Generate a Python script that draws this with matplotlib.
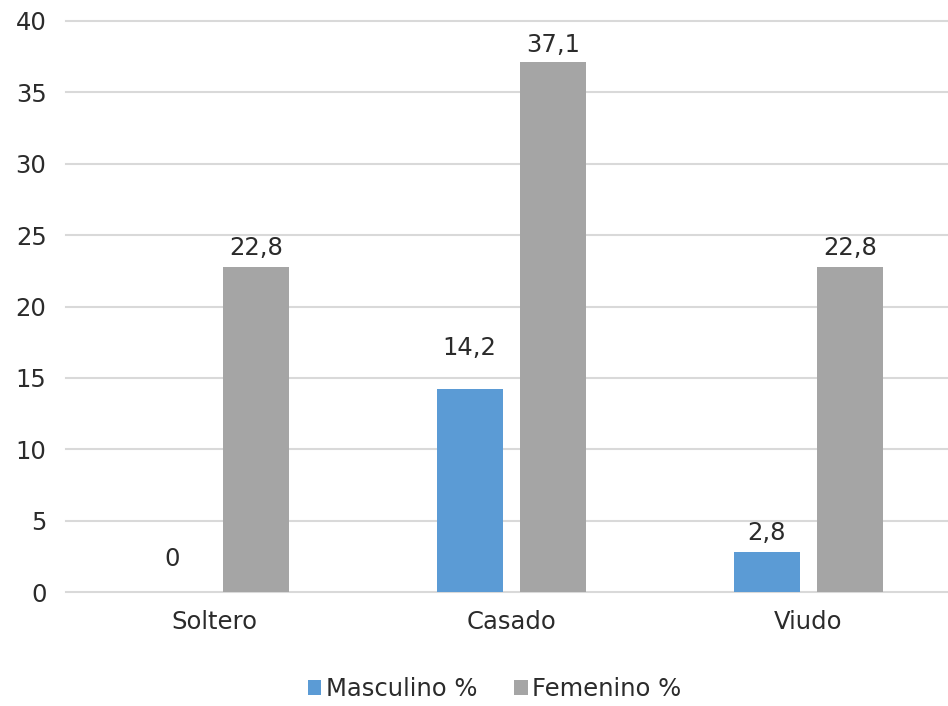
import numpy as np
import matplotlib.pyplot as plt
from matplotlib.ticker import MultipleLocator

categories = ['Soltero', 'Casado', 'Viudo']
masculino = [0, 14.2, 2.8]
femenino = [22.8, 37.1, 22.8]
series_names = ['Masculino %', 'Femenino %']

blue = '#5B9BD5'
grey = '#A5A5A5'
text_col = '#2B2B2B'
fs = 17.5

plt.rcParams['font.family'] = 'DejaVu Sans'

fig = plt.figure(figsize=(9.48, 7.06), dpi=100)
ax = fig.add_axes([66 / 948, 114 / 706, 1 - 66 / 948, 571 / 706])

x = np.arange(len(categories))
w = 0.222
off = 0.141
b1 = ax.bar(x - off, masculino, w, color=blue, label=series_names[0], zorder=3)
b2 = ax.bar(x + off, femenino, w, color=grey, label=series_names[1], zorder=3)

# value labels, with the small nudges the original layout had
pads = [[15, 21, 5], [5, 4, 5]]
for bars, vals, pp in ((b1, masculino, pads[0]), (b2, femenino, pads[1])):
    for rect, v, p in zip(bars, vals, pp):
        ax.annotate(f'{v:g}'.replace('.', ','),
                    (rect.get_x() + rect.get_width() / 2, v),
                    xytext=(0, p), textcoords='offset points',
                    ha='center', va='bottom', fontsize=fs, color=text_col)

ax.set_xlim(-0.5, 2.47)
ax.set_ylim(0, 40)
ax.yaxis.set_major_locator(MultipleLocator(5))
ax.set_xticks(x)
ax.set_xticklabels(categories)
ax.tick_params(axis='both', length=0, labelsize=fs, labelcolor=text_col)
ax.tick_params(axis='y', pad=14)
ax.tick_params(axis='x', pad=13)
ax.grid(axis='y', color='#D9D9D9', linewidth=1.5, zorder=0)
for gl in ax.get_ygridlines():
    gl.set_clip_on(False)
for s in ax.spines.values():
    s.set_visible(False)

fig.legend(handles=[b1, b2], loc='center', bbox_to_anchor=(0.522, 0.024),
           ncol=2, frameon=False, fontsize=fs, handlelength=0.55, handleheight=0.55,
           handletextpad=0.2, columnspacing=1.5, labelcolor=text_col)

fig.savefig('out.png', dpi=100)
